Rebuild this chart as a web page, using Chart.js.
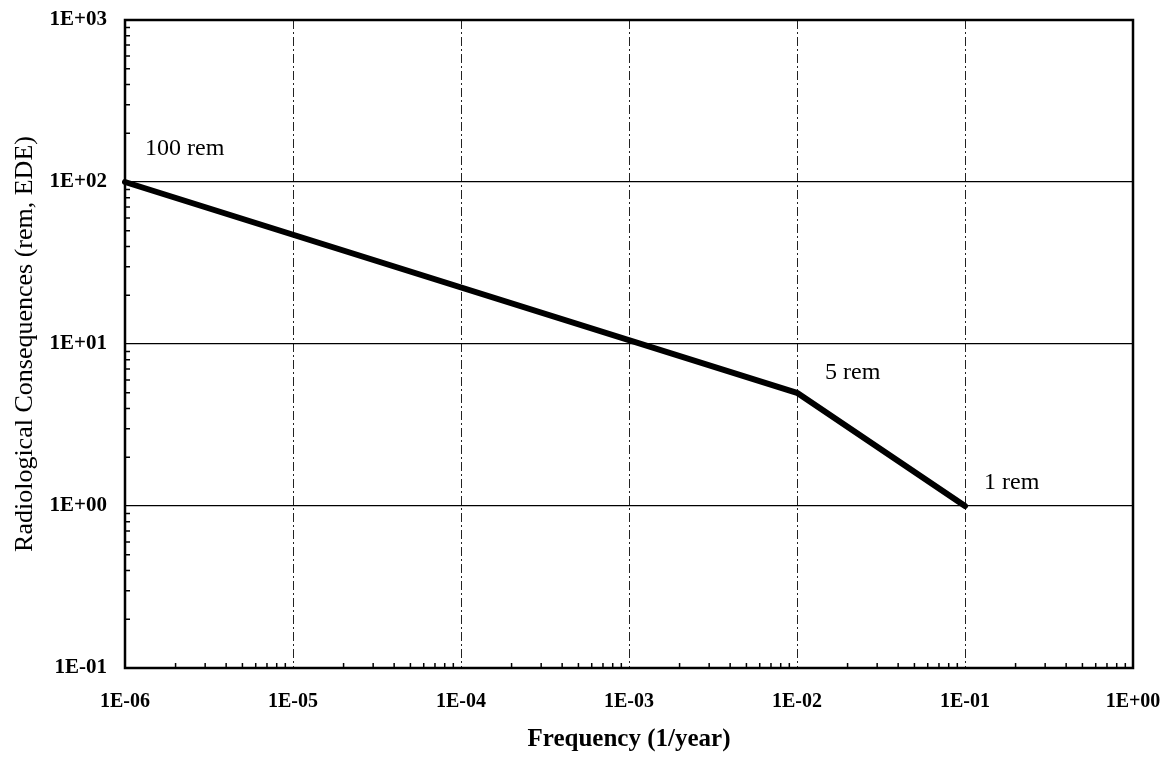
<!DOCTYPE html>
<html>
<head>
<meta charset="utf-8">
<script src="https://cdn.jsdelivr.net/npm/chart.js@4.4.1/dist/chart.umd.min.js"></script>
<style>
  html, body { margin: 0; padding: 0; background: #fff; }
  #wrap { width: 1170px; height: 757px; }
</style>
</head>
<body>
<div id="wrap"><canvas id="c" width="1170" height="757" style="width:1170px;height:757px"></canvas></div>
<script>
// ---- data ----
const frequency = [1e-6, 1e-2, 1e-1];          // 1/year
const consequence = [100, 5, 1];               // rem, EDE
const pointLabels = ['100 rem', '5 rem', '1 rem'];

const xTickValues = [1e-6, 1e-5, 1e-4, 1e-3, 1e-2, 1e-1, 1e0];
const xTickLabels = ['1E-06', '1E-05', '1E-04', '1E-03', '1E-02', '1E-01', '1E+00'];
const yTickValues = [1e-1, 1e0, 1e1, 1e2, 1e3];
const yTickLabels = ['1E-01', '1E+00', '1E+01', '1E+02', '1E+03'];

const xTitle = 'Frequency (1/year)';
const yTitle = 'Radiological Consequences (rem, EDE)';

// ---- styling ----
const SERIF = '"Liberation Serif", "Times New Roman", serif';
const xTickFont = { family: SERIF, size: 20, weight: 'bold' };
const yTickFont = { family: SERIF, size: 21, weight: 'bold' };
const labelOffsets = [[20, -27], [28, -14], [19, -17]];

function labelFor(values, labels) {
  return function (v) {
    const i = values.findIndex(t => Math.abs(Math.log10(t) - Math.log10(v)) < 1e-6);
    return i >= 0 ? labels[i] : '';
  };
}

const decorPlugin = {
  id: 'decor',
  afterDatasetsDraw(chart) {
    const ctx = chart.ctx;
    const a = chart.chartArea;
    const xs = chart.scales.x, ys = chart.scales.y;
    ctx.save();
    // minor ticks (inward)
    ctx.strokeStyle = '#000';
    ctx.lineWidth = 1.5;
    ctx.beginPath();
    for (let d = 0; d < xTickValues.length - 1; d++) {
      for (let m = 2; m <= 9; m++) {
        const px = xs.getPixelForValue(xTickValues[d] * m);
        ctx.moveTo(px, a.bottom);
        ctx.lineTo(px, a.bottom - 5);
      }
    }
    for (let d = 0; d < yTickValues.length - 1; d++) {
      for (let m = 2; m <= 9; m++) {
        const py = ys.getPixelForValue(yTickValues[d] * m);
        ctx.moveTo(a.left, py);
        ctx.lineTo(a.left + 5, py);
      }
    }
    ctx.stroke();
    // frame
    ctx.lineWidth = 2.5;
    ctx.strokeRect(a.left, a.top, a.right - a.left, a.bottom - a.top);
    // point labels
    ctx.fillStyle = '#000';
    ctx.font = '24px ' + SERIF;
    ctx.textAlign = 'left';
    ctx.textBaseline = 'alphabetic';
    const meta = chart.getDatasetMeta(0);
    meta.data.forEach((pt, i) => {
      ctx.fillText(pointLabels[i], pt.x + labelOffsets[i][0], pt.y + labelOffsets[i][1]);
    });
    ctx.restore();
  }
};

new Chart(document.getElementById('c'), {
  type: 'scatter',
  data: {
    datasets: [{
      data: frequency.map((f, i) => ({ x: f, y: consequence[i] })),
      showLine: true,
      borderColor: '#000',
      borderWidth: 6,
      borderCapStyle: 'round',
      borderJoinStyle: 'round',
      pointRadius: 0,
      pointHoverRadius: 0,
      clip: false
    }]
  },
  options: {
    responsive: false,
    animation: false,
    events: [],
    layout: { padding: { left: 0, right: 37, top: 20, bottom: 0 } },
    plugins: { legend: { display: false }, tooltip: { enabled: false } },
    scales: {
      x: {
        type: 'logarithmic',
        min: 1e-6, max: 1,
        afterBuildTicks: s => { s.ticks = xTickValues.map(v => ({ value: v, major: true })); },
        afterFit: s => { s.height = 89; s.paddingLeft = 0; s.paddingRight = 0; },
        ticks: {
          callback: labelFor(xTickValues, xTickLabels),
          font: xTickFont, color: '#000', padding: 22, maxRotation: 0, autoSkip: false
        },
        grid: { color: '#222', lineWidth: 1, drawTicks: false },
        border: { display: false, dash: [9, 3, 2, 3] },
        title: {
          display: true, text: xTitle, color: '#000',
          font: { family: SERIF, size: 25, weight: 'bold' },
          padding: { top: 0, bottom: 2 }
        }
      },
      y: {
        type: 'logarithmic',
        min: 0.1, max: 1000,
        afterBuildTicks: s => { s.ticks = yTickValues.map(v => ({ value: v, major: true })); },
        afterFit: s => { s.width = 125; s.paddingTop = 0; s.paddingBottom = 0; },
        ticks: {
          callback: labelFor(yTickValues, yTickLabels),
          font: yTickFont, color: '#000', padding: 18, autoSkip: false
        },
        grid: { color: '#000', lineWidth: 1.2, drawTicks: false },
        border: { display: false },
        title: {
          display: true, text: yTitle, color: '#000',
          font: { family: SERIF, size: 26, weight: 'normal' },
          padding: { top: 10, bottom: 0 }
        }
      }
    }
  },
  plugins: [decorPlugin]
});
</script>
</body>
</html>
